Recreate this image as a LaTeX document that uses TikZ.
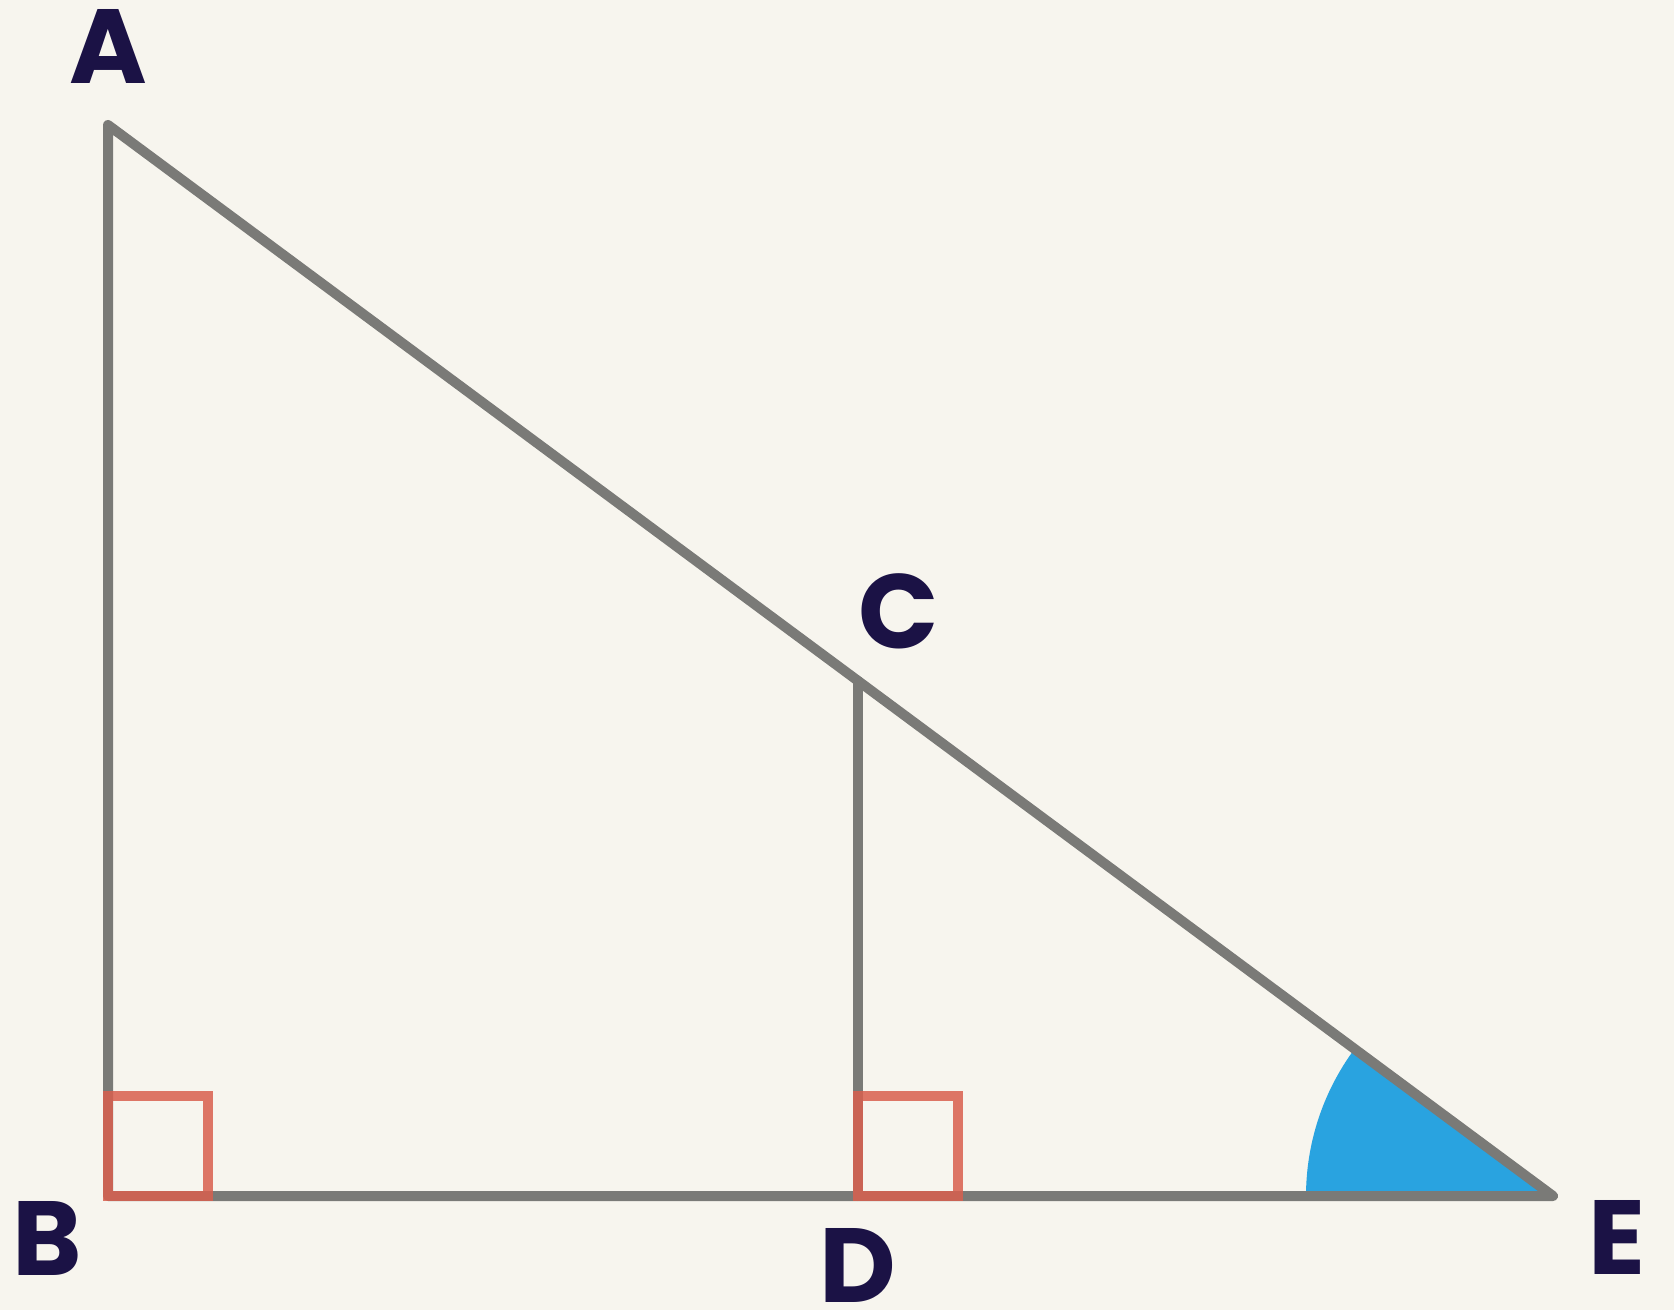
\documentclass[tikz,border=0pt]{standalone}
\usepackage{fontspec}
\setsansfont{Poppins}
\usetikzlibrary{positioning}
\usepackage{xcolor}
\definecolor{bgCream}{HTML}{F7F5EE}
\definecolor{edgeGray}{HTML}{7A7A77}
\definecolor{markRed}{HTML}{D95F4E}
\definecolor{angleBlue}{HTML}{29A3E0}
\definecolor{lblNavy}{HTML}{1B1245}
\tikzset{
    font=\sffamily,
    % Lines
    edge/.style={line width=1mm, edgeGray, line cap=round, line join=round},
    rightMark/.style={line width=0.95mm, draw=markRed, opacity=0.85},
    angleFill/.style={fill=angleBlue},
    % Labels
    lbl/.style={inner sep=0pt, text=lblNavy, font=\sffamily\bfseries\fontsize{30}{36}\selectfont}
}

\begin{document}
\begin{tikzpicture}[x=0.1mm, y=0.1mm]

\fill[bgCream] (0,0) rectangle (1674,1310);
\useasboundingbox (0,0) rectangle (1674,1310);

\coordinate (A) at (108,1185);
\coordinate (B) at (108,114);
\coordinate (D) at (858,114);
\coordinate (E) at (1553,114);
\coordinate (C) at (858,629);

% angle at E
\fill[angleFill] (E) -- ++(-24.7mm,0) arc[start angle=180, end angle=143.46, radius=24.7mm] -- cycle;

\draw[edge] (A) -- (B) -- (E) -- cycle;
\draw[edge] (C) -- (D);

% right angles
\draw[rightMark] (B) rectangle ++(100,100);
\draw[rightMark] (D) rectangle ++(100,100);

\node[lbl, above=4.1mm of A] (lA) {A};
\node[lbl, below left=0.5mm and 2.5mm of B] (lB) {B};
\node[lbl, above right=3.1mm and 0mm of C] (lC) {C};
\node[lbl, below=3.2mm of D] (lD) {D};
\node[lbl, below right=0.4mm and 3.5mm of E] (lE) {E};

\end{tikzpicture}
\end{document}
